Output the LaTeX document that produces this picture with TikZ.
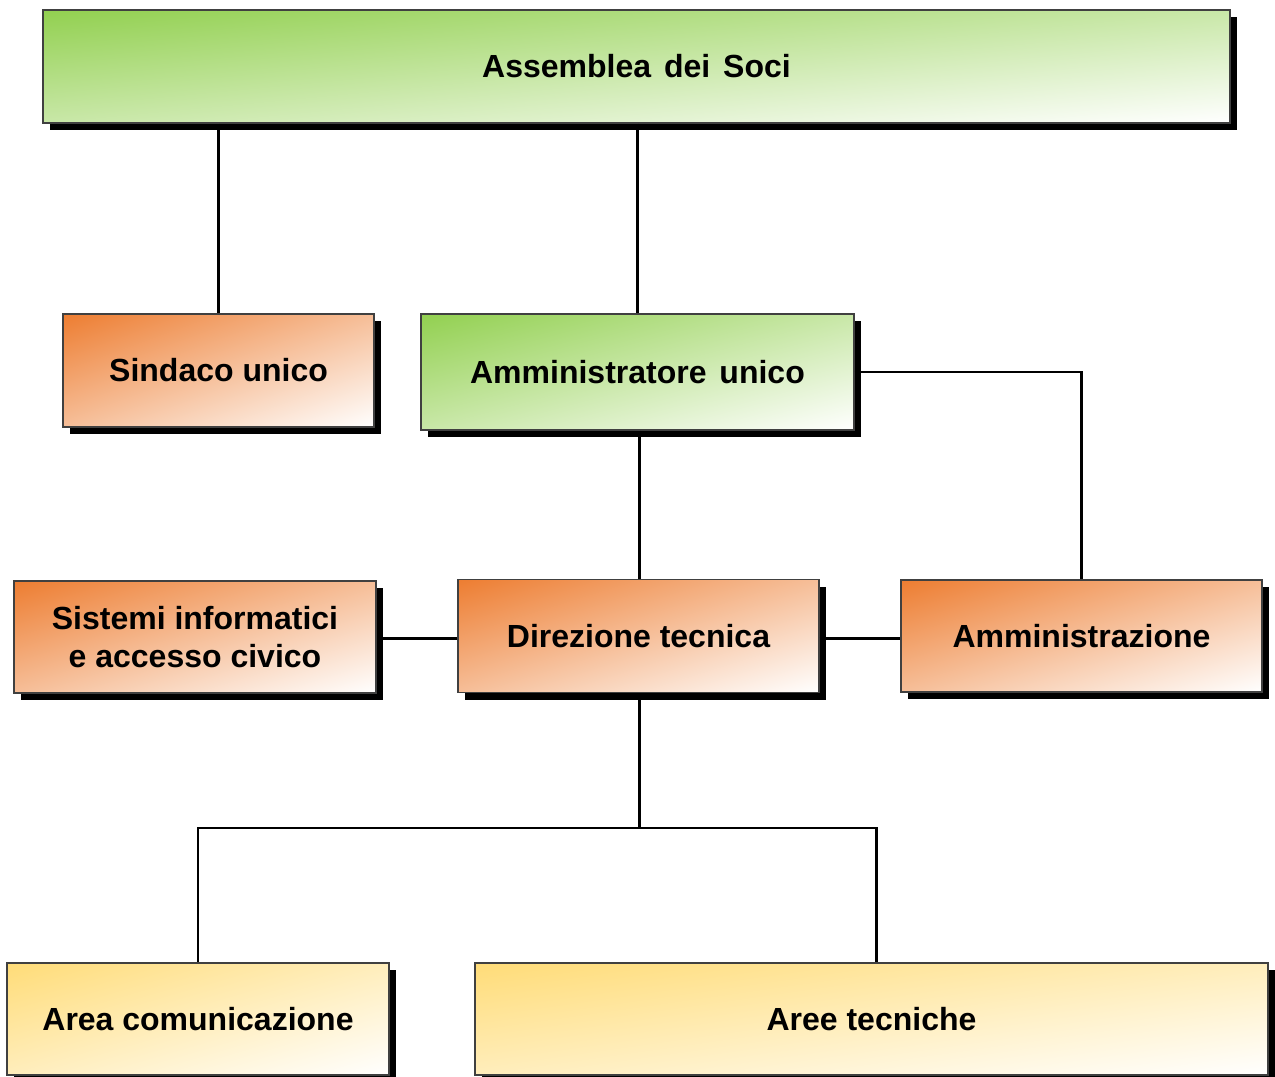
\documentclass[tikz,border=0pt]{standalone}
\usepackage{fontspec}
\setmainfont{Liberation Sans}
\usetikzlibrary{positioning,shadows}
\definecolor{verde}{HTML}{92D050}
\definecolor{arancio}{HTML}{ED7D31}
\definecolor{giallo}{HTML}{FFDC78}
\definecolor{bordo}{HTML}{404040}

% spazi tra le parole un po' piu' larghi
\newcommand\spaziatura{\spaceskip=1.45\fontdimen2\font\relax}
% sfumatura diagonale, dall'angolo in alto a sinistra al bianco
\makeatletter
\newcommand\sfondo[1]{%
	\begin{pgfscope}%
		\pgftransformreset
		\pgfpointdiff{\pgfpointanchor{path picture bounding box}{south west}}{\pgfpointanchor{path picture bounding box}{north east}}%
		\edef\sfW{\strip@pt\pgf@x}\edef\sfH{\strip@pt\pgf@y}%
		\pgfmathsetmacro\sfA{\sfW/2}\pgfmathsetmacro\sfB{\sfH/2}%
		\pgftransformshift{\pgfpointanchor{path picture bounding box}{center}}%
		\pgftransformcm{\sfA}{\sfB}{-\sfA}{\sfB}{\pgfpointorigin}%
		\pgflowlevelsynccm
		\shade[bottom color=white,top color=#1] (-2pt,-1pt) rectangle (2pt,1pt);%
	\end{pgfscope}}
\makeatother

\begin{document}
\begin{tikzpicture}[x=0.75pt,y=-0.75pt,
	ufficio/.style={draw=bordo,fill=white,line width=0.8pt,inner sep=0pt,align=center,
		font=\fontsize{24}{28}\selectfont\bfseries,
		drop shadow={shadow xshift=5.25pt,shadow yshift=-5.25pt,opacity=1,fill=black}},
	verdebox/.style={ufficio,font=\fontsize{24}{28}\selectfont\bfseries\spaziatura,path picture={\sfondo{verde}}},
	aranciobox/.style={ufficio,path picture={\sfondo{arancio}}},
	giallobox/.style={ufficio,path picture={\sfondo{giallo}}},
	linea/.style={line width=2.2pt,black}]
	\useasboundingbox (0,0) rectangle (1275,1077);
	% vertici
	\node[verdebox,minimum width=890.25pt,minimum height=84.75pt] (soci) at (636.5,66.5) {Assemblea dei Soci};
	\node[aranciobox,minimum width=233.25pt,minimum height=84.75pt] (sindaco) at (218.5,370.5) {Sindaco unico};
	\node[verdebox,minimum width=324.75pt,minimum height=87pt] (amm) at (637.5,372) {Amministratore unico};
	% livello direzione
	\node[aranciobox,minimum width=271.5pt,minimum height=84pt] (sistemi) at (195,637) {Sistemi informatici\\e accesso civico};
	\node[aranciobox,minimum width=270.75pt,minimum height=84.75pt] (direzione) at (638.5,636) {Direzione tecnica};
	\node[aranciobox,minimum width=270.75pt,minimum height=84pt] (amministrazione) at (1081.5,636) {Amministrazione};
	% aree
	\node[giallobox,minimum width=286.5pt,minimum height=84pt] (comunicazione) at (198,1019) {Area comunicazione};
	\node[giallobox,minimum width=594.75pt,minimum height=84pt] (tecniche) at (871.5,1019) {Aree tecniche};
	\coordinate (bivio) at (639.5,828);
	\draw[linea] (soci.south -| sindaco.north) -- (sindaco.north);
	\draw[linea] (soci.south -| amm.north) -- (amm.north);
	\draw[linea] (amm.east) -| (amministrazione.north);
	\draw[linea] (amm.south -| bivio) -- (direzione.north -| bivio);
	\draw[linea] ([yshift=-2pt]direzione.west) -- ([yshift=-2pt]direzione.west -| sistemi.east);
	\draw[linea] ([yshift=-2pt]direzione.east) -- ([yshift=-2pt]direzione.east -| amministrazione.west);
	\draw[linea] (direzione.south -| bivio) -- (bivio);
	\draw[linea] (bivio) -| (comunicazione.north);
	\draw[linea] (bivio) -| ([xshift=4pt]tecniche.north);
\end{tikzpicture}
\end{document}
